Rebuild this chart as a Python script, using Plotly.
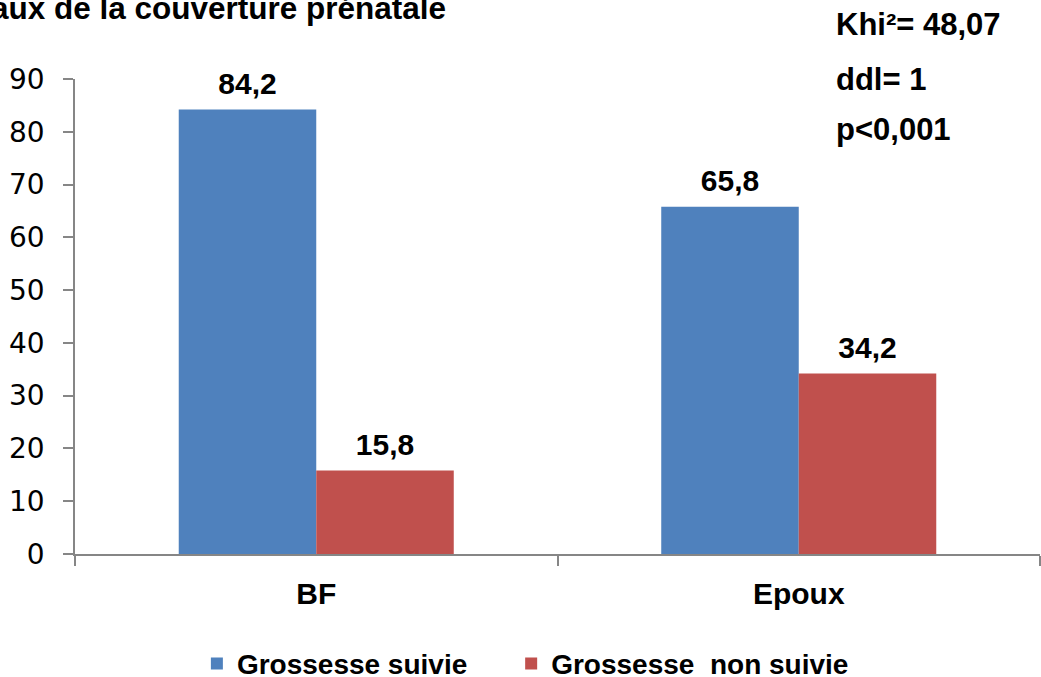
import plotly.graph_objects as go

categories = ["BF", "Epoux"]
suivie = [84.2, 65.8]
non_suivie = [15.8, 34.2]
series_names = ["Grossesse suivie\u00a0\u00a0\u00a0\u00a0\u00a0", "Grossesse\u00a0 non suivie"]
y_ticks = [0, 10, 20, 30, 40, 50, 60, 70, 80, 90]
stats_lines = ["Khi²= 48,07", "ddl= 1", "p<0,001"]
title_text = "Taux de la couverture prénatale"

BLUE = "#4F81BD"
RED = "#C0504D"
AXIS = "#868686"
FONT = "Liberation Sans, Arial, sans-serif"

fig = go.Figure()
for i, (name, vals, col) in enumerate([(series_names[0], suivie, BLUE),
                                        (series_names[1], non_suivie, RED)]):
    fig.add_trace(go.Bar(
        x=categories, y=vals, name=name, offsetgroup=str(i),
        marker=dict(color=col, line=dict(width=0)),
    ))
for i, vals in enumerate([suivie, non_suivie]):
    fig.add_trace(go.Scatter(
        x=categories, y=vals, mode="markers+text", offsetgroup=str(i),
        texttemplate="<b>%{y:.1f}</b>", textposition="top center",
        marker=dict(size=12, opacity=0), cliponaxis=False, showlegend=False,
        textfont=dict(family=FONT, size=30, color="black"), hoverinfo="skip",
    ))

fig.update_layout(
    width=1041, height=677,
    margin=dict(l=75, r=1, t=79, b=123),
    paper_bgcolor="white", plot_bgcolor="white",
    barmode="group", bargap=0.43, bargroupgap=0,
    scattermode="group", scattergap=0.43,
    separators=", ",
    font=dict(family=FONT, color="black"),
    showlegend=True,
    legend=dict(orientation="h", xref="paper", x=0.1263, xanchor="left",
                yref="container", y=0.0195, yanchor="middle",
                font=dict(family=FONT, size=28, color="black", weight="bold"),
                itemwidth=30, traceorder="normal", bgcolor="rgba(0,0,0,0)"),
    xaxis=dict(showline=True, linecolor=AXIS, linewidth=1.5, ticks="outside",
               tickson="boundaries", ticklen=10, tickcolor=AXIS, tickwidth=1.5,
               ticklabelstandoff=12,
               tickfont=dict(family=FONT, size=30, color="black"),
               tickprefix="<b>", ticksuffix="</b>", showgrid=False),
    yaxis=dict(range=[0, 90], tickvals=y_ticks, showline=True, linecolor=AXIS,
               linewidth=1.5, ticks="outside", ticklen=10, tickcolor=AXIS, tickwidth=1.5,
               ticklabelstandoff=13,
               tickfont=dict(family="DejaVu Sans", size=28, color="black"),
               showgrid=False, zeroline=False),
)

fig.add_annotation(text="<b>" + title_text + "</b>", xref="paper", yref="paper",
                   x=0.3865, y=1.149, xanchor="right", yanchor="middle", showarrow=False,
                   font=dict(family=FONT, size=31.5, color="black"))

for i, line in enumerate(stats_lines):
    fig.add_annotation(text="<b>" + line + "</b>", xref="paper", yref="paper",
                       x=0.787, y=[1.114, 1.0, 0.893][i], xanchor="left", yanchor="middle",
                       showarrow=False, font=dict(family=FONT, size=31, color="black"))

fig.write_html("out.html", post_script="document.body.style.margin='0';",
               config={"displayModeBar": False})
